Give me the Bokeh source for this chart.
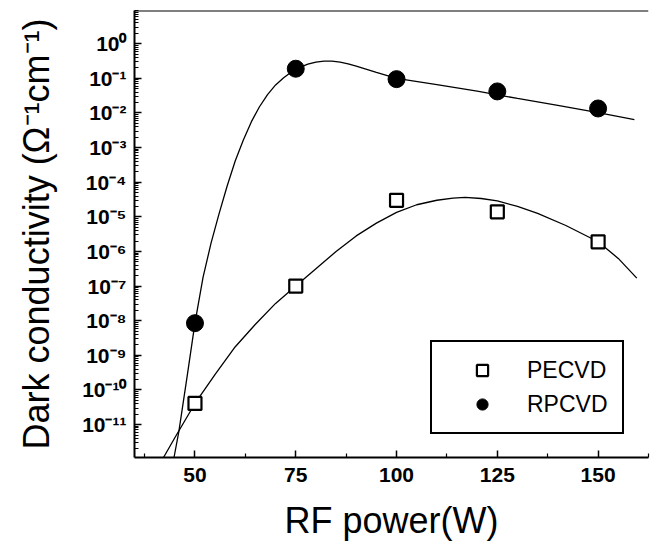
from bokeh.plotting import figure
from bokeh.models import (Range1d, FixedTicker, CustomJSTickFormatter, Legend,
                          LegendItem, Span)
from bokeh.embed import file_html
from bokeh.resources import INLINE

# Measured dark conductivity (S/cm) versus RF power (W)
power = [50, 75, 100, 125, 150]
pecvd = [4.1e-11, 1.0e-7, 3.0e-5, 1.4e-5, 1.9e-6]
rpcvd = [8.5e-9, 1.9e-1, 9.5e-2, 4.2e-2, 1.35e-2]

# Trend curves, given as log10(conductivity)
pecvd_fit_x = [42.2, 45, 50, 55, 60, 65, 70, 75, 80, 85, 90, 95, 100, 105, 110,
               114, 117, 121, 125, 130, 135, 142, 150, 155, 159.6]
pecvd_fit_log = [-11.95, -11.38, -10.39, -9.55, -8.75, -8.1, -7.5, -7.0, -6.5,
                 -6.0, -5.55, -5.18, -4.87, -4.65, -4.52, -4.46, -4.44, -4.47,
                 -4.54, -4.7, -4.9, -5.25, -5.72, -6.2, -6.77]
rpcvd_fit_x = [44.8, 46, 48, 50, 52, 54, 56, 58, 60, 62, 64, 66, 68, 70, 72,
               74, 76, 78, 80, 82, 84, 86, 88, 90, 95, 100, 110, 120, 130, 140,
               150, 159]
rpcvd_fit_log = [-11.95, -11.2, -9.65, -8.06, -6.75, -5.75, -4.9, -4.1, -3.38,
                 -2.78, -2.25, -1.82, -1.47, -1.19, -0.98, -0.81, -0.68, -0.59,
                 -0.53, -0.5, -0.5, -0.53, -0.58, -0.65, -0.83, -1.0, -1.18,
                 -1.37, -1.58, -1.78, -1.99, -2.19]

x_ticks = [50, 75, 100, 125, 150]
x_minor_ticks = [37.5, 62.5, 87.5, 112.5, 137.5, 162.5]
y_exponents = list(range(-11, 1))

y_lo, y_hi = 10 ** -11.95, 10 ** 0.96
FONT = "Liberation Sans"

p = figure(width=650, height=543, output_backend="svg", toolbar_location=None,
           y_axis_type="log", x_range=Range1d(35, 162.5),
           y_range=Range1d(y_lo, y_hi),
           min_border_left=134, min_border_right=2, min_border_top=10,
           min_border_bottom=85)
p.outline_line_color = None
p.xgrid.visible = False
p.ygrid.visible = False
p.background_fill_color = "white"

# curves
p.line(pecvd_fit_x, [10 ** v for v in pecvd_fit_log], line_color="black",
       line_width=1.3)
p.line(rpcvd_fit_x, [10 ** v for v in rpcvd_fit_log], line_color="black",
       line_width=1.3)

# markers
r_pe = p.scatter(power, pecvd, marker="square", size=13, fill_color="white",
                 line_color="black", line_width=2.2)
r_rp = p.scatter(power, rpcvd, marker="circle", size=17, fill_color="black",
                 line_color="black", line_width=1)

# top frame line
p.add_layout(Span(location=y_hi, dimension="width", line_color="black",
                  line_width=2))

# x axis
xa = p.xaxis[0]
xa.ticker = FixedTicker(ticks=x_ticks, minor_ticks=x_minor_ticks)
xa.axis_label = "RF power(W)"
xa.axis_label_text_font = FONT
xa.axis_label_text_font_size = "36px"
xa.axis_label_text_font_style = "normal"
xa.axis_label_standoff = 15
xa.major_label_standoff = 10

# y axis
ya = p.yaxis[0]
ya.ticker = FixedTicker(
    ticks=[10.0 ** e for e in y_exponents],
    minor_ticks=[m * 10.0 ** e for e in range(-12, 1) for m in range(2, 10)])
ya.formatter = CustomJSTickFormatter(code="""
    const sup = {"-": "\u207b", "0": "\u2070", "1": "\u00b9", "2": "\u00b2",
                 "3": "\u00b3", "4": "\u2074", "5": "\u2075", "6": "\u2076",
                 "7": "\u2077", "8": "\u2078", "9": "\u2079"};
    const e = Math.round(Math.log10(tick));
    return "10" + String(e).split("").map(c => sup[c]).join("");
""")
ya.axis_label = "Dark conductivity (\u03a9\u207b\u00b9cm\u207b\u00b9)"
ya.axis_label_text_font = FONT
ya.axis_label_text_font_size = "36px"
ya.axis_label_text_font_style = "normal"
ya.axis_label_standoff = 22
ya.major_label_standoff = 8

for ax in (xa, ya):
    ax.axis_line_width = 2
    ax.axis_line_color = "black"
    ax.major_tick_in = 7
    ax.major_tick_out = 0
    ax.minor_tick_in = 4
    ax.minor_tick_out = 0
    ax.major_tick_line_width = 1.5
    ax.minor_tick_line_width = 1.2
    ax.major_label_text_font = FONT
    ax.major_label_text_font_size = "21px"
    ax.major_label_text_font_style = "bold"
    ax.major_label_text_color = "black"
    ax.axis_label_text_color = "black"

legend = Legend(items=[LegendItem(label="PECVD", renderers=[r_pe]),
                       LegendItem(label="RPCVD", renderers=[r_rp])],
                location=(296, 23), orientation="vertical",
                label_text_font=FONT, label_text_font_size="23px",
                label_text_color="black",
                glyph_width=72, glyph_height=28, label_height=28,
                label_standoff=9, padding=14, spacing=6, margin=0,
                border_line_color="black", border_line_width=2,
                border_line_alpha=1.0,
                background_fill_color="white", background_fill_alpha=1.0)
p.add_layout(legend, "center")

open("out.html", "w").write(file_html(p, INLINE))
